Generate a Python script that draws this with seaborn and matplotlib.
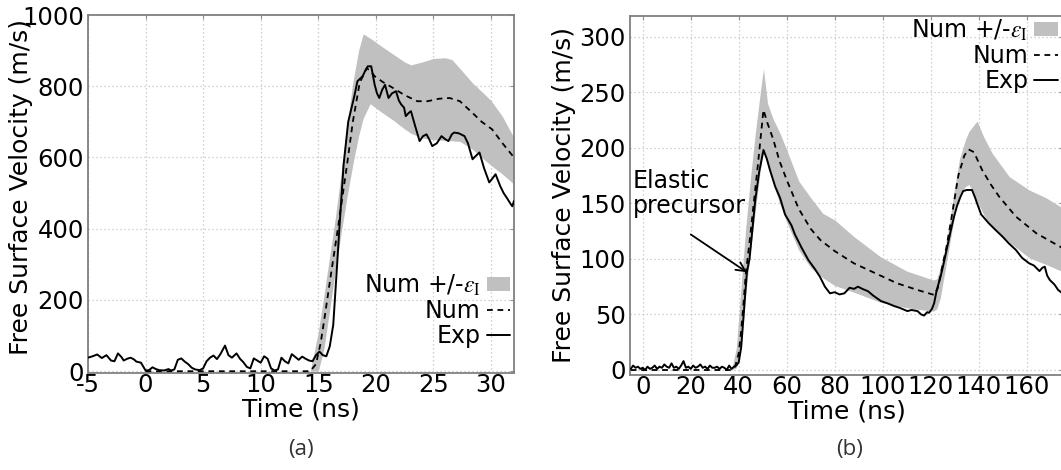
import numpy as np
import pandas as pd
import matplotlib
matplotlib.use("Agg")
import matplotlib.pyplot as plt
from matplotlib.patches import Patch
from matplotlib.lines import Line2D
import seaborn as sns

# ---------------- Panel (a) data ----------------
a_exp_t = [-5.0, -4.6, -4.2, -3.8, -3.4, -3.0, -2.7, -2.4, -2.1, -1.9, -1.6, -1.3, -1.0, -0.8, -0.4,
           0.0, 0.3, 0.6, 0.9, 1.2, 1.6, 2.0, 2.2, 2.5, 2.8, 3.1, 3.4, 3.7, 4.0, 4.3, 4.7, 5.0,
           5.3, 5.6, 5.9, 6.2, 6.5, 6.9, 7.2, 7.5, 7.9, 8.2, 8.5, 8.8, 9.1, 9.4, 9.7, 10.0, 10.3,
           10.6, 10.9, 11.2, 11.5, 11.8, 12.1, 12.4, 12.7, 13.0, 13.3, 13.6, 13.9, 14.2, 14.5,
           14.8, 15.1, 15.4, 15.7, 16.0, 16.3, 16.6, 16.83, 17.2, 17.6, 18.13, 18.4, 18.85, 19.1,
           19.3, 19.6, 19.9, 20.1, 20.3, 20.55, 20.8, 21.1, 21.4, 21.75, 22.0, 22.2, 22.45, 22.6,
           22.85, 23.05, 23.4, 23.8, 24.1, 24.4, 24.65, 24.9, 25.3, 25.7, 26.0, 26.3, 26.6, 26.8,
           27.2, 27.7, 28.0, 28.4, 28.7, 29.0, 29.4, 29.85, 30.1, 30.4, 30.8, 31.1, 31.45, 31.7,
           31.85, 32.0]
a_exp_v = [38, 42, 47, 37, 45, 30, 28, 50, 40, 30, 35, 38, 33, 27, 24,
           2, 3, 11, 6, 3, 2, 6, 2, 5, 32, 36, 27, 20, 10, 5, 3, 8,
           28, 38, 44, 34, 48, 72, 45, 38, 50, 35, 25, 12, 8, 36, 30, 24, 42,
           35, 8, 2, 5, 38, 28, 22, 48, 40, 32, 41, 35, 30, 28,
           45, 55, 45, 42, 70, 130, 280, 400, 580, 700, 772, 814, 828, 845,
           856, 856, 804, 780, 767, 790, 804, 767, 780, 786, 760, 749, 740, 716,
           725, 730, 690, 646, 660, 665, 650, 632, 640, 660, 652, 646, 665, 670,
           668, 660, 640, 595, 605, 614, 570, 530, 540, 553, 520, 500, 483, 470,
           463, 478]

a_num_t = [0.0, 14.3, 14.8, 15.2, 15.5, 16.0, 16.7, 17.5, 18.0, 18.6, 19.2, 19.5, 19.9, 20.6,
           21.5, 22.5, 23.6, 24.5, 25.5, 26.4, 27.3, 28.4, 29.2, 30.1, 31.0, 32.0]
a_num_v = [0, 0, 20, 78, 140, 250, 400, 580, 700, 810, 850, 845, 828, 812,
           795, 775, 758, 758, 765, 767, 758, 725, 700, 679, 640, 600]

a_band_t = [14.3, 15.0, 15.5, 16.0, 16.5, 17.0, 17.5, 18.0, 18.5, 18.9, 19.5, 20.5, 21.5, 22.5,
            23.05, 24.0, 25.0, 26.0, 26.6, 27.3, 28.4, 29.2, 30.0, 31.0, 32.0]
a_band_hi = [0, 110, 215, 325, 435, 560, 690, 810, 900, 947, 935, 912, 890, 868,
             860, 868, 878, 880, 875, 850, 809, 785, 760, 715, 655]
a_band_lo = [0, 0, 65, 175, 285, 390, 490, 580, 660, 710, 751, 727, 705, 680,
             668, 655, 650, 648, 647, 645, 623, 600, 578, 553, 525]

# ---------------- Panel (b) data ----------------
b_exp_t = [-5, -4, -3, -2, -1, 0, 1, 2, 3, 4, 5, 6, 7, 8, 9, 10, 11, 12, 13, 14, 15, 16, 17,
           18, 19, 20, 21, 22, 23, 24, 25, 26, 27, 28, 29, 30, 31, 32, 33, 34, 35, 36, 37, 38,
           39, 40, 41, 42, 43.4, 44.5, 46.9, 48.5, 50.3, 51.7, 53, 55.2, 57.2, 59.3, 62, 63.4,
           66.2, 69, 71.7, 73.8, 75.9, 78, 80, 82, 84, 86.2, 88, 89.7, 91.5, 93.8, 96, 99.3,
           102, 104.8, 107, 110.3, 112, 114.5, 116, 117.2, 118.5, 119.3, 120.5, 121.4, 122.5,
           124.1, 125.5, 126.9, 128.3, 129.7, 131, 132.4, 133.5, 135, 137.2, 138.5, 139.3, 141,
           144.2, 147, 149.9, 152.5, 155.5, 158, 161, 163, 165.3, 166.5, 167.5, 168.5, 169.6,
           171.5, 173.1, 175.5]
b_exp_v = [1, 4, 2, 3, 1, 2, 0, 3, 1, 2, 4, 1, 3, 2, 5, 3, 2, 6, 2, 3, 1, 4, 8,
           2, 3, 1, 4, 2, 3, 5, 2, 3, 1, 4, 2, 2, 3, 1, 3, 2, 0, 4, 1, 3,
           4, 7, 20, 48, 88, 100, 153, 178, 198, 190, 180, 165, 155, 140, 130, 122,
           110, 99, 91, 84, 75, 69, 70, 68, 69, 74, 73, 75, 73, 71, 67, 62,
           60, 57.5, 56, 53, 54, 53, 50, 49, 52, 51.5, 55, 60, 72,
           84, 97, 111, 125, 138, 148, 156, 161, 162, 162, 155, 150, 140,
           132, 126, 120, 114, 108, 101, 96, 94, 89, 92, 93, 85, 81,
           77, 72, 68]

b_num_t = [-5, 37, 38.5, 40, 41, 42, 43, 44.5, 46, 48, 50.3, 52, 54.3, 57, 60, 65, 70, 74, 80,
           88, 98, 106, 114.5, 121.5, 123, 124.5, 126.5, 128.5, 131.5, 134, 135.8, 138, 141.4,
           145, 148.5, 155.5, 164, 175.5]
b_num_v = [0, 0, 3, 15, 35, 60, 88, 115, 145, 185, 234, 222, 208, 188, 171, 145, 127, 117, 107,
           96, 86, 78, 72, 67.5, 74, 90, 110, 135, 175, 193, 198.5, 196, 180,
           167, 156, 138, 123, 109]

b_band_t = [37, 39, 41, 43, 45, 47, 49, 50.3, 52, 54.3, 57, 60, 65, 70, 75, 80, 88, 99, 110,
            117, 121, 122.5, 124, 126, 128, 130, 132, 134.4, 136, 139.3, 142, 145.6, 152.7,
            161, 168, 175.5]
b_band_hi = [0, 20, 75, 130, 175, 215, 250, 271, 240, 226, 214, 198, 170, 155, 141, 135, 120,
             102, 89, 84, 81, 82, 92, 110, 135, 165, 190, 207, 215, 224, 210, 195, 174,
             162, 155, 145]
b_band_lo = [0, 2, 20, 70, 110, 145, 180, 196, 186, 168, 150, 133, 108, 92, 83, 76, 70,
             61, 56, 54, 53, 55, 65, 90, 115, 140, 158, 165, 167, 152, 140, 128, 115,
             101, 95, 88]

legend_labels = [r"Num +/-$\varepsilon_{\mathrm{I}}$", "Num", "Exp"]

# ---------------- Styling ----------------
sns.set_theme(style="white")
plt.rcParams["font.family"] = ["DejaVu Sans"]
plt.rcParams["mathtext.fontset"] = "stix"
plt.rcParams["axes.unicode_minus"] = False
plt.rcParams["text.color"] = "black"
plt.rcParams["axes.labelcolor"] = "black"

W, H = 1061, 470
fig = plt.figure(figsize=(W / 100, H / 100), dpi=100)

def px_axes(l, r, t, b):
    return fig.add_axes([l / W, (H - b) / H, (r - l) / W, (b - t) / H])

ax_a = px_axes(88, 514, 15, 373)
ax_b = px_axes(630, 1063, 15.5, 375)

band_color = "#c0c0c0"
dash = (0, (3.2, 2.6))
TICK_FS = 17.5
LABEL_FS = 18

def style_axes(ax):
    for s in ax.spines.values():
        s.set_color("#808080")
        s.set_linewidth(1.3)
    ax.grid(True, color="#c4c4c4", linestyle=(0, (1, 2.2)), linewidth=0.9)
    ax.set_axisbelow(True)
    ax.tick_params(direction="in", length=3, width=0.8, color="#909090",
                   top=True, right=True, labelsize=TICK_FS, labelcolor="black")
    ax.tick_params(axis="x", pad=0)
    ax.tick_params(axis="y", pad=3)

def draw_panel(ax, bt, bhi, blo, nt, nv, et, ev):
    ax.fill_between(bt, blo, bhi, color=band_color, linewidth=0, zorder=1)
    sns.lineplot(x=nt, y=nv, ax=ax, color="black", linestyle=dash, linewidth=1.3,
                 errorbar=None, sort=False, zorder=3)
    sns.lineplot(x=et, y=ev, ax=ax, color="black", linewidth=1.4,
                 errorbar=None, sort=False, zorder=4)

def legend_handles():
    return [Patch(facecolor=band_color, edgecolor="none"),
            Line2D([], [], color="black", linestyle=dash, linewidth=1.3),
            Line2D([], [], color="black", linewidth=1.4)]

# Panel (a)
draw_panel(ax_a, a_band_t, a_band_hi, a_band_lo, a_num_t, a_num_v, a_exp_t, a_exp_v)
style_axes(ax_a)
ax_a.set_xlim(-5, 32)
ax_a.set_ylim(-5, 1000)
ax_a.set_xticks([-5, 0, 5, 10, 15, 20, 25, 30])
ax_a.set_yticks([0, 200, 400, 600, 800, 1000])
ax_a.set_xlabel("Time (ns)", fontsize=LABEL_FS, labelpad=0)
ax_a.set_ylabel("Free Surface Velocity (m/s)", fontsize=LABEL_FS)
ax_a.yaxis.set_label_coords(-0.128, 0.52)
ax_a.legend(legend_handles(), legend_labels, loc="lower right",
            bbox_to_anchor=(0.991, 0.07), borderaxespad=0, borderpad=0,
            frameon=False, markerfirst=False, fontsize=17, handlelength=1.0,
            handleheight=0.55, handletextpad=0.25, labelspacing=0.05)

# Panel (b)
draw_panel(ax_b, b_band_t, b_band_hi, b_band_lo, b_num_t, b_num_v, b_exp_t, b_exp_v)
style_axes(ax_b)
ax_b.set_xlim(-5.3, 175.1)
ax_b.set_ylim(-4.5, 319)
ax_b.set_xticks([0, 20, 40, 60, 80, 100, 120, 140, 160])
ax_b.set_yticks([0, 50, 100, 150, 200, 250, 300])
ax_b.set_xlabel("Time (ns)", fontsize=LABEL_FS, labelpad=0)
ax_b.set_ylabel("Free Surface Velocity (m/s)", fontsize=LABEL_FS)
ax_b.yaxis.set_label_coords(-0.125, 0.5)
ax_b.legend(legend_handles(), legend_labels, loc="upper right",
            bbox_to_anchor=(0.988, 0.995), borderaxespad=0, borderpad=0,
            frameon=False, markerfirst=False, fontsize=17, handlelength=1.0,
            handleheight=0.55, handletextpad=0.25, labelspacing=0.05)

ax_b.text(-4, 181, "Elastic\nprecursor", fontsize=17, ha="left", va="top",
          linespacing=1.05, zorder=5)
ax_b.annotate("", xy=(43.4, 88), xytext=(20, 122),
              arrowprops=dict(arrowstyle="->", color="black", lw=1.3,
                              mutation_scale=16, shrinkA=0, shrinkB=0), zorder=5)

fig.text(301 / W, 1 - 449 / H, "(a)", ha="center", va="center", fontsize=16,
         family=["Open Sans", "DejaVu Sans"], color="#333333")
fig.text(850 / W, 1 - 449 / H, "(b)", ha="center", va="center", fontsize=16,
         family=["Open Sans", "DejaVu Sans"], color="#333333")

fig.savefig("out.png", dpi=100)
